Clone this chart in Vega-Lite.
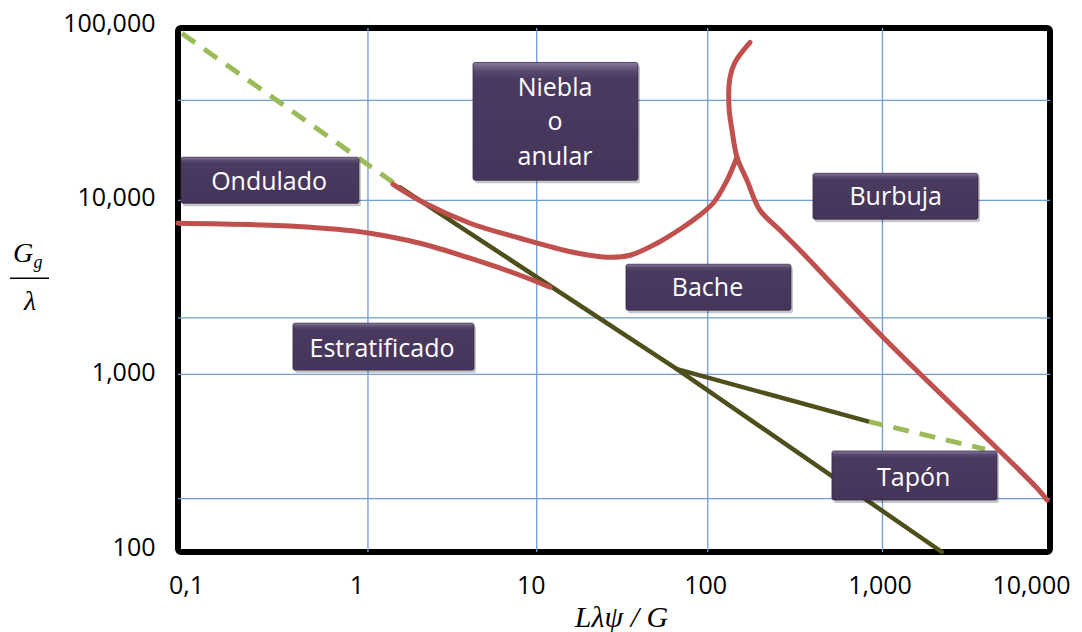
{
  "$schema": "https://vega.github.io/schema/vega-lite/v6.json",
  "width": 872,
  "height": 524,
  "autosize": {"type": "none"},
  "padding": {"left": 178, "top": 28, "right": 32, "bottom": 80},
  "background": "white",
  "config": {"view": {"stroke": "#000000", "strokeWidth": 6, "cornerRadius": 3}},
  "datasets": {
    "vgrid": [{"gx": 1.228}, {"gx": 11.4}, {"gx": 109}, {"gx": 1095}],
    "hgrid": [{"gy": 38550}, {"gy": 10320}, {"gy": 2190}, {"gy": 1039}, {"gy": 202}],
    "curves": [
      {"s": "dash1", "i": 0, "x": 0.1054, "y": 93100},
      {"s": "dash1", "i": 1, "x": 1.875, "y": 12250},
      {"s": "olive1", "i": 0, "x": 1.875, "y": 12250},
      {"s": "olive1", "i": 1, "x": 72.6, "y": 1114},
      {"s": "olive1", "i": 2, "x": 2400, "y": 100},
      {"s": "olive2", "i": 0, "x": 72.6, "y": 1114},
      {"s": "olive2", "i": 1, "x": 893, "y": 561},
      {"s": "dash2", "i": 0, "x": 893, "y": 561},
      {"s": "dash2", "i": 1, "x": 4237, "y": 388},
      {"s": "red1", "i": 0, "x": 0.1, "y": 7621},
      {"s": "red1", "i": 1, "x": 0.337, "y": 7425},
      {"s": "red1", "i": 2, "x": 0.816, "y": 7042},
      {"s": "red1", "i": 3, "x": 1.262, "y": 6683},
      {"s": "red1", "i": 4, "x": 2.441, "y": 5858},
      {"s": "red1", "i": 5, "x": 4.724, "y": 4807},
      {"s": "red1", "i": 6, "x": 9.14, "y": 3842},
      {"s": "red1", "i": 7, "x": 13.58, "y": 3281},
      {"s": "red2", "i": 0, "x": 1.709, "y": 12740},
      {"s": "red2", "i": 1, "x": 2.54, "y": 10050},
      {"s": "red2", "i": 2, "x": 4.724, "y": 7623},
      {"s": "red2", "i": 3, "x": 9.14, "y": 6257},
      {"s": "red2", "i": 4, "x": 18.4, "y": 5202},
      {"s": "red2", "i": 5, "x": 28.84, "y": 4871},
      {"s": "red2", "i": 6, "x": 39.06, "y": 5002},
      {"s": "red2", "i": 7, "x": 55.8, "y": 5858},
      {"s": "red2", "i": 8, "x": 78.63, "y": 7234},
      {"s": "red2", "i": 9, "x": 94.6, "y": 8251},
      {"s": "red2", "i": 10, "x": 116.9, "y": 9922},
      {"s": "red2", "i": 11, "x": 140.6, "y": 13430},
      {"s": "red2", "i": 12, "x": 160.4, "y": 18190},
      {"s": "red3", "i": 0, "x": 190.5, "y": 82700},
      {"s": "red3", "i": 1, "x": 156.2, "y": 63560},
      {"s": "red3", "i": 2, "x": 146.3, "y": 52170},
      {"s": "red3", "i": 3, "x": 144.4, "y": 35140},
      {"s": "red3", "i": 4, "x": 150.2, "y": 25950},
      {"s": "red3", "i": 5, "x": 160.4, "y": 18190},
      {"s": "red3", "i": 6, "x": 183, "y": 13430},
      {"s": "red3", "i": 7, "x": 217.4, "y": 9049},
      {"s": "red3", "i": 8, "x": 283, "y": 6953},
      {"s": "red3", "i": 9, "x": 368.6, "y": 5341},
      {"s": "red3", "i": 10, "x": 1103, "y": 1698},
      {"s": "red3", "i": 11, "x": 8424, "y": 232.3},
      {"s": "red3", "i": 12, "x": 9612, "y": 198.4}
    ],
    "boxes": [
      {"label": "Ondulado", "x1": 0.104, "x2": 1.09, "y1": 18200, "y2": 9920, "tx": 0.333, "ty": 13120},
      {"label": "Niebla\no\nanular", "x1": 4.915, "x2": 43.4, "y1": 63500, "y2": 13430, "tx": 14.51, "ty": 45440},
      {"label": "Burbuja", "x1": 437.5, "x2": 3866, "y1": 14720, "y2": 8040, "tx": 1304, "ty": 10810},
      {"label": "Bache", "x1": 37.05, "x2": 327, "y1": 4441, "y2": 2423, "tx": 108.7, "ty": 3261},
      {"label": "Estratificado", "x1": 0.4563, "x2": 4.98, "y1": 2042, "y2": 1100, "tx": 1.478, "ty": 1460},
      {"label": "Tapón", "x1": 562, "x2": 4966, "y1": 378.5, "y2": 198.4, "tx": 1654, "ty": 265}
    ],
    "ytitle": [{"t": "G", "x": 0.01292, "y": 4560}, {"t": "λ", "x": 0.01417, "y": 2423}],
    "ysub": [{"t": "g", "x": 0.01575, "y": 4214}],
    "ybar": [{"x": 0.01088, "x2": 0.01821, "y": 3694}]
  },
  "layer": [
    {
      "data": {"name": "vgrid"},
      "mark": {"type": "rule", "color": "#6f9dd6", "strokeWidth": 1.3},
      "encoding": {
        "x": {
          "field": "gx", "type": "quantitative",
          "scale": {"type": "log", "domain": [0.1, 10000], "nice": false},
          "axis": {
            "values": [0.1, 1, 10, 100, 1000, 10000],
            "labelExpr": "datum.value < 0.5 ? '0,1' : format(datum.value, ',')",
            "grid": false, "ticks": false, "tickSize": 0, "domain": false,
            "labelFont": "Open Sans", "labelFontSize": 25, "labelColor": "#000000",
            "labelBaseline": "alphabetic", "labelAlign": "center", "labelPadding": 41,
            "labelOffset": {"condition": [{"test": "datum.value < 0.5", "value": 8}, {"test": "datum.value > 5000", "value": -19}], "value": 4},
            "labelFlush": false, "labelBound": false, "labelOverlap": false,
            "title": "Lλψ / G",
            "titleFont": "Liberation Serif", "titleFontStyle": "italic", "titleFontWeight": "normal",
            "titleFontSize": 30, "titleColor": "#000000",
            "titleX": 443, "titleY": 74, "titleAlign": "center", "titleBaseline": "alphabetic"
          }
        }
      }
    },
    {
      "data": {"name": "hgrid"},
      "mark": {"type": "rule", "color": "#6f9dd6", "strokeWidth": 1.3},
      "encoding": {
        "y": {
          "field": "gy", "type": "quantitative",
          "scale": {"type": "log", "domain": [100, 100000], "nice": false},
          "axis": {
            "values": [100, 1000, 10000, 100000],
            "labelExpr": "format(datum.value, ',')",
            "grid": false, "ticks": false, "tickSize": 0, "domain": false,
            "labelFont": "Open Sans", "labelFontSize": 25, "labelColor": "#000000",
            "labelBaseline": "alphabetic", "labelAlign": "right", "labelPadding": 23, "labelOffset": 3,
            "labelFlush": false, "labelBound": false, "labelOverlap": false,
            "title": null
          }
        }
      }
    },
    {
      "data": {"name": "curves"},
      "transform": [{"filter": {"field": "s", "oneOf": ["dash1", "dash2"]}}],
      "mark": {"type": "line", "color": "#9bbb59", "strokeWidth": 5, "strokeDash": [16, 11]},
      "encoding": {
        "x": {"field": "x", "type": "quantitative", "scale": {"type": "log", "domain": [0.1, 10000], "nice": false},
          "axis": {
            "values": [0.1, 1, 10, 100, 1000, 10000],
            "labelExpr": "datum.value < 0.5 ? '0,1' : format(datum.value, ',')",
            "grid": false, "ticks": false, "tickSize": 0, "domain": false,
            "labelFont": "Open Sans", "labelFontSize": 25, "labelColor": "#000000",
            "labelBaseline": "alphabetic", "labelAlign": "center", "labelPadding": 41,
            "labelOffset": {"condition": [{"test": "datum.value < 0.5", "value": 8}, {"test": "datum.value > 5000", "value": -19}], "value": 4},
            "labelFlush": false, "labelBound": false, "labelOverlap": false,
            "title": "Lλψ / G",
            "titleFont": "Liberation Serif", "titleFontStyle": "italic", "titleFontWeight": "normal",
            "titleFontSize": 30, "titleColor": "#000000",
            "titleX": 443, "titleY": 74, "titleAlign": "center", "titleBaseline": "alphabetic"
          }},
        "y": {"field": "y", "type": "quantitative", "scale": {"type": "log", "domain": [100, 100000], "nice": false},
          "axis": {
            "values": [100, 1000, 10000, 100000],
            "labelExpr": "format(datum.value, ',')",
            "grid": false, "ticks": false, "tickSize": 0, "domain": false,
            "labelFont": "Open Sans", "labelFontSize": 25, "labelColor": "#000000",
            "labelBaseline": "alphabetic", "labelAlign": "right", "labelPadding": 23, "labelOffset": 3,
            "labelFlush": false, "labelBound": false, "labelOverlap": false,
            "title": null
          }},
        "detail": {"field": "s"},
        "order": {"field": "i", "type": "quantitative"}
      }
    },
    {
      "data": {"name": "curves"},
      "transform": [{"filter": {"field": "s", "oneOf": ["olive1", "olive2"]}}],
      "mark": {"type": "line", "color": "#4f4f1c", "strokeWidth": 4.5, "strokeCap": "round"},
      "encoding": {
        "x": {"field": "x", "type": "quantitative", "scale": {"type": "log", "domain": [0.1, 10000], "nice": false},
          "axis": {
            "values": [0.1, 1, 10, 100, 1000, 10000],
            "labelExpr": "datum.value < 0.5 ? '0,1' : format(datum.value, ',')",
            "grid": false, "ticks": false, "tickSize": 0, "domain": false,
            "labelFont": "Open Sans", "labelFontSize": 25, "labelColor": "#000000",
            "labelBaseline": "alphabetic", "labelAlign": "center", "labelPadding": 41,
            "labelOffset": {"condition": [{"test": "datum.value < 0.5", "value": 8}, {"test": "datum.value > 5000", "value": -19}], "value": 4},
            "labelFlush": false, "labelBound": false, "labelOverlap": false,
            "title": "Lλψ / G",
            "titleFont": "Liberation Serif", "titleFontStyle": "italic", "titleFontWeight": "normal",
            "titleFontSize": 30, "titleColor": "#000000",
            "titleX": 443, "titleY": 74, "titleAlign": "center", "titleBaseline": "alphabetic"
          }},
        "y": {"field": "y", "type": "quantitative", "scale": {"type": "log", "domain": [100, 100000], "nice": false},
          "axis": {
            "values": [100, 1000, 10000, 100000],
            "labelExpr": "format(datum.value, ',')",
            "grid": false, "ticks": false, "tickSize": 0, "domain": false,
            "labelFont": "Open Sans", "labelFontSize": 25, "labelColor": "#000000",
            "labelBaseline": "alphabetic", "labelAlign": "right", "labelPadding": 23, "labelOffset": 3,
            "labelFlush": false, "labelBound": false, "labelOverlap": false,
            "title": null
          }},
        "detail": {"field": "s"},
        "order": {"field": "i", "type": "quantitative"}
      }
    },
    {
      "data": {"name": "curves"},
      "transform": [{"filter": {"field": "s", "oneOf": ["red1", "red2", "red3"]}}],
      "mark": {"type": "line", "color": "#c0504d", "strokeWidth": 5, "strokeCap": "round", "interpolate": "catmull-rom"},
      "encoding": {
        "x": {"field": "x", "type": "quantitative", "scale": {"type": "log", "domain": [0.1, 10000], "nice": false},
          "axis": {
            "values": [0.1, 1, 10, 100, 1000, 10000],
            "labelExpr": "datum.value < 0.5 ? '0,1' : format(datum.value, ',')",
            "grid": false, "ticks": false, "tickSize": 0, "domain": false,
            "labelFont": "Open Sans", "labelFontSize": 25, "labelColor": "#000000",
            "labelBaseline": "alphabetic", "labelAlign": "center", "labelPadding": 41,
            "labelOffset": {"condition": [{"test": "datum.value < 0.5", "value": 8}, {"test": "datum.value > 5000", "value": -19}], "value": 4},
            "labelFlush": false, "labelBound": false, "labelOverlap": false,
            "title": "Lλψ / G",
            "titleFont": "Liberation Serif", "titleFontStyle": "italic", "titleFontWeight": "normal",
            "titleFontSize": 30, "titleColor": "#000000",
            "titleX": 443, "titleY": 74, "titleAlign": "center", "titleBaseline": "alphabetic"
          }},
        "y": {"field": "y", "type": "quantitative", "scale": {"type": "log", "domain": [100, 100000], "nice": false},
          "axis": {
            "values": [100, 1000, 10000, 100000],
            "labelExpr": "format(datum.value, ',')",
            "grid": false, "ticks": false, "tickSize": 0, "domain": false,
            "labelFont": "Open Sans", "labelFontSize": 25, "labelColor": "#000000",
            "labelBaseline": "alphabetic", "labelAlign": "right", "labelPadding": 23, "labelOffset": 3,
            "labelFlush": false, "labelBound": false, "labelOverlap": false,
            "title": null
          }},
        "detail": {"field": "s"},
        "order": {"field": "i", "type": "quantitative"}
      }
    },
    {
      "data": {"name": "boxes"},
      "mark": {"type": "rect", "fill": "#000000", "opacity": 0.22, "xOffset": 2, "x2Offset": 2, "yOffset": 3, "y2Offset": 3, "cornerRadius": 2},
      "encoding": {
        "x": {"field": "x1", "type": "quantitative", "scale": {"type": "log", "domain": [0.1, 10000], "nice": false},
          "axis": {
            "values": [0.1, 1, 10, 100, 1000, 10000],
            "labelExpr": "datum.value < 0.5 ? '0,1' : format(datum.value, ',')",
            "grid": false, "ticks": false, "tickSize": 0, "domain": false,
            "labelFont": "Open Sans", "labelFontSize": 25, "labelColor": "#000000",
            "labelBaseline": "alphabetic", "labelAlign": "center", "labelPadding": 41,
            "labelOffset": {"condition": [{"test": "datum.value < 0.5", "value": 8}, {"test": "datum.value > 5000", "value": -19}], "value": 4},
            "labelFlush": false, "labelBound": false, "labelOverlap": false,
            "title": "Lλψ / G",
            "titleFont": "Liberation Serif", "titleFontStyle": "italic", "titleFontWeight": "normal",
            "titleFontSize": 30, "titleColor": "#000000",
            "titleX": 443, "titleY": 74, "titleAlign": "center", "titleBaseline": "alphabetic"
          }},
        "x2": {"field": "x2"},
        "y": {"field": "y1", "type": "quantitative", "scale": {"type": "log", "domain": [100, 100000], "nice": false},
          "axis": {
            "values": [100, 1000, 10000, 100000],
            "labelExpr": "format(datum.value, ',')",
            "grid": false, "ticks": false, "tickSize": 0, "domain": false,
            "labelFont": "Open Sans", "labelFontSize": 25, "labelColor": "#000000",
            "labelBaseline": "alphabetic", "labelAlign": "right", "labelPadding": 23, "labelOffset": 3,
            "labelFlush": false, "labelBound": false, "labelOverlap": false,
            "title": null
          }},
        "y2": {"field": "y2"}
      }
    },
    {
      "data": {"name": "boxes"},
      "mark": {
        "type": "rect", "cornerRadius": 2, "stroke": "#3a2c4a", "strokeWidth": 0.8,
        "fill": {"gradient": "linear", "x1": 0, "y1": 0, "x2": 0, "y2": 1,
          "stops": [
            {"offset": 0, "color": "#8a7c9c"},
            {"offset": 0.07, "color": "#5b4a70"},
            {"offset": 0.14, "color": "#4b3a5f"},
            {"offset": 1, "color": "#45355a"}
          ]}
      },
      "encoding": {
        "x": {"field": "x1", "type": "quantitative", "scale": {"type": "log", "domain": [0.1, 10000], "nice": false},
          "axis": {
            "values": [0.1, 1, 10, 100, 1000, 10000],
            "labelExpr": "datum.value < 0.5 ? '0,1' : format(datum.value, ',')",
            "grid": false, "ticks": false, "tickSize": 0, "domain": false,
            "labelFont": "Open Sans", "labelFontSize": 25, "labelColor": "#000000",
            "labelBaseline": "alphabetic", "labelAlign": "center", "labelPadding": 41,
            "labelOffset": {"condition": [{"test": "datum.value < 0.5", "value": 8}, {"test": "datum.value > 5000", "value": -19}], "value": 4},
            "labelFlush": false, "labelBound": false, "labelOverlap": false,
            "title": "Lλψ / G",
            "titleFont": "Liberation Serif", "titleFontStyle": "italic", "titleFontWeight": "normal",
            "titleFontSize": 30, "titleColor": "#000000",
            "titleX": 443, "titleY": 74, "titleAlign": "center", "titleBaseline": "alphabetic"
          }},
        "x2": {"field": "x2"},
        "y": {"field": "y1", "type": "quantitative", "scale": {"type": "log", "domain": [100, 100000], "nice": false},
          "axis": {
            "values": [100, 1000, 10000, 100000],
            "labelExpr": "format(datum.value, ',')",
            "grid": false, "ticks": false, "tickSize": 0, "domain": false,
            "labelFont": "Open Sans", "labelFontSize": 25, "labelColor": "#000000",
            "labelBaseline": "alphabetic", "labelAlign": "right", "labelPadding": 23, "labelOffset": 3,
            "labelFlush": false, "labelBound": false, "labelOverlap": false,
            "title": null
          }},
        "y2": {"field": "y2"}
      }
    },
    {
      "data": {"name": "boxes"},
      "mark": {"type": "text", "font": "Open Sans", "fontSize": 25, "color": "#ffffff", "align": "center", "baseline": "middle", "lineBreak": "\n", "lineHeight": 34.5},
      "encoding": {
        "x": {"field": "tx", "type": "quantitative", "scale": {"type": "log", "domain": [0.1, 10000], "nice": false},
          "axis": {
            "values": [0.1, 1, 10, 100, 1000, 10000],
            "labelExpr": "datum.value < 0.5 ? '0,1' : format(datum.value, ',')",
            "grid": false, "ticks": false, "tickSize": 0, "domain": false,
            "labelFont": "Open Sans", "labelFontSize": 25, "labelColor": "#000000",
            "labelBaseline": "alphabetic", "labelAlign": "center", "labelPadding": 41,
            "labelOffset": {"condition": [{"test": "datum.value < 0.5", "value": 8}, {"test": "datum.value > 5000", "value": -19}], "value": 4},
            "labelFlush": false, "labelBound": false, "labelOverlap": false,
            "title": "Lλψ / G",
            "titleFont": "Liberation Serif", "titleFontStyle": "italic", "titleFontWeight": "normal",
            "titleFontSize": 30, "titleColor": "#000000",
            "titleX": 443, "titleY": 74, "titleAlign": "center", "titleBaseline": "alphabetic"
          }},
        "y": {"field": "ty", "type": "quantitative", "scale": {"type": "log", "domain": [100, 100000], "nice": false},
          "axis": {
            "values": [100, 1000, 10000, 100000],
            "labelExpr": "format(datum.value, ',')",
            "grid": false, "ticks": false, "tickSize": 0, "domain": false,
            "labelFont": "Open Sans", "labelFontSize": 25, "labelColor": "#000000",
            "labelBaseline": "alphabetic", "labelAlign": "right", "labelPadding": 23, "labelOffset": 3,
            "labelFlush": false, "labelBound": false, "labelOverlap": false,
            "title": null
          }},
        "text": {"field": "label", "type": "nominal"}
      }
    },
    {
      "data": {"name": "ytitle"},
      "mark": {"type": "text", "font": "Liberation Serif", "fontStyle": "italic", "fontSize": 28, "color": "#000000", "align": "center", "baseline": "alphabetic"},
      "encoding": {
        "x": {"field": "x", "type": "quantitative", "scale": {"type": "log", "domain": [0.1, 10000], "nice": false},
          "axis": {
            "values": [0.1, 1, 10, 100, 1000, 10000],
            "labelExpr": "datum.value < 0.5 ? '0,1' : format(datum.value, ',')",
            "grid": false, "ticks": false, "tickSize": 0, "domain": false,
            "labelFont": "Open Sans", "labelFontSize": 25, "labelColor": "#000000",
            "labelBaseline": "alphabetic", "labelAlign": "center", "labelPadding": 41,
            "labelOffset": {"condition": [{"test": "datum.value < 0.5", "value": 8}, {"test": "datum.value > 5000", "value": -19}], "value": 4},
            "labelFlush": false, "labelBound": false, "labelOverlap": false,
            "title": "Lλψ / G",
            "titleFont": "Liberation Serif", "titleFontStyle": "italic", "titleFontWeight": "normal",
            "titleFontSize": 30, "titleColor": "#000000",
            "titleX": 443, "titleY": 74, "titleAlign": "center", "titleBaseline": "alphabetic"
          }},
        "y": {"field": "y", "type": "quantitative", "scale": {"type": "log", "domain": [100, 100000], "nice": false},
          "axis": {
            "values": [100, 1000, 10000, 100000],
            "labelExpr": "format(datum.value, ',')",
            "grid": false, "ticks": false, "tickSize": 0, "domain": false,
            "labelFont": "Open Sans", "labelFontSize": 25, "labelColor": "#000000",
            "labelBaseline": "alphabetic", "labelAlign": "right", "labelPadding": 23, "labelOffset": 3,
            "labelFlush": false, "labelBound": false, "labelOverlap": false,
            "title": null
          }},
        "text": {"field": "t", "type": "nominal"}
      }
    },
    {
      "data": {"name": "ysub"},
      "mark": {"type": "text", "font": "Liberation Serif", "fontStyle": "italic", "fontSize": 18, "color": "#000000", "align": "center", "baseline": "alphabetic"},
      "encoding": {
        "x": {"field": "x", "type": "quantitative", "scale": {"type": "log", "domain": [0.1, 10000], "nice": false},
          "axis": {
            "values": [0.1, 1, 10, 100, 1000, 10000],
            "labelExpr": "datum.value < 0.5 ? '0,1' : format(datum.value, ',')",
            "grid": false, "ticks": false, "tickSize": 0, "domain": false,
            "labelFont": "Open Sans", "labelFontSize": 25, "labelColor": "#000000",
            "labelBaseline": "alphabetic", "labelAlign": "center", "labelPadding": 41,
            "labelOffset": {"condition": [{"test": "datum.value < 0.5", "value": 8}, {"test": "datum.value > 5000", "value": -19}], "value": 4},
            "labelFlush": false, "labelBound": false, "labelOverlap": false,
            "title": "Lλψ / G",
            "titleFont": "Liberation Serif", "titleFontStyle": "italic", "titleFontWeight": "normal",
            "titleFontSize": 30, "titleColor": "#000000",
            "titleX": 443, "titleY": 74, "titleAlign": "center", "titleBaseline": "alphabetic"
          }},
        "y": {"field": "y", "type": "quantitative", "scale": {"type": "log", "domain": [100, 100000], "nice": false},
          "axis": {
            "values": [100, 1000, 10000, 100000],
            "labelExpr": "format(datum.value, ',')",
            "grid": false, "ticks": false, "tickSize": 0, "domain": false,
            "labelFont": "Open Sans", "labelFontSize": 25, "labelColor": "#000000",
            "labelBaseline": "alphabetic", "labelAlign": "right", "labelPadding": 23, "labelOffset": 3,
            "labelFlush": false, "labelBound": false, "labelOverlap": false,
            "title": null
          }},
        "text": {"field": "t", "type": "nominal"}
      }
    },
    {
      "data": {"name": "ybar"},
      "mark": {"type": "rule", "color": "#000000", "strokeWidth": 1.5},
      "encoding": {
        "x": {"field": "x", "type": "quantitative", "scale": {"type": "log", "domain": [0.1, 10000], "nice": false},
          "axis": {
            "values": [0.1, 1, 10, 100, 1000, 10000],
            "labelExpr": "datum.value < 0.5 ? '0,1' : format(datum.value, ',')",
            "grid": false, "ticks": false, "tickSize": 0, "domain": false,
            "labelFont": "Open Sans", "labelFontSize": 25, "labelColor": "#000000",
            "labelBaseline": "alphabetic", "labelAlign": "center", "labelPadding": 41,
            "labelOffset": {"condition": [{"test": "datum.value < 0.5", "value": 8}, {"test": "datum.value > 5000", "value": -19}], "value": 4},
            "labelFlush": false, "labelBound": false, "labelOverlap": false,
            "title": "Lλψ / G",
            "titleFont": "Liberation Serif", "titleFontStyle": "italic", "titleFontWeight": "normal",
            "titleFontSize": 30, "titleColor": "#000000",
            "titleX": 443, "titleY": 74, "titleAlign": "center", "titleBaseline": "alphabetic"
          }},
        "x2": {"field": "x2"},
        "y": {"field": "y", "type": "quantitative", "scale": {"type": "log", "domain": [100, 100000], "nice": false},
          "axis": {
            "values": [100, 1000, 10000, 100000],
            "labelExpr": "format(datum.value, ',')",
            "grid": false, "ticks": false, "tickSize": 0, "domain": false,
            "labelFont": "Open Sans", "labelFontSize": 25, "labelColor": "#000000",
            "labelBaseline": "alphabetic", "labelAlign": "right", "labelPadding": 23, "labelOffset": 3,
            "labelFlush": false, "labelBound": false, "labelOverlap": false,
            "title": null
          }}
      }
    }
  ]
}
